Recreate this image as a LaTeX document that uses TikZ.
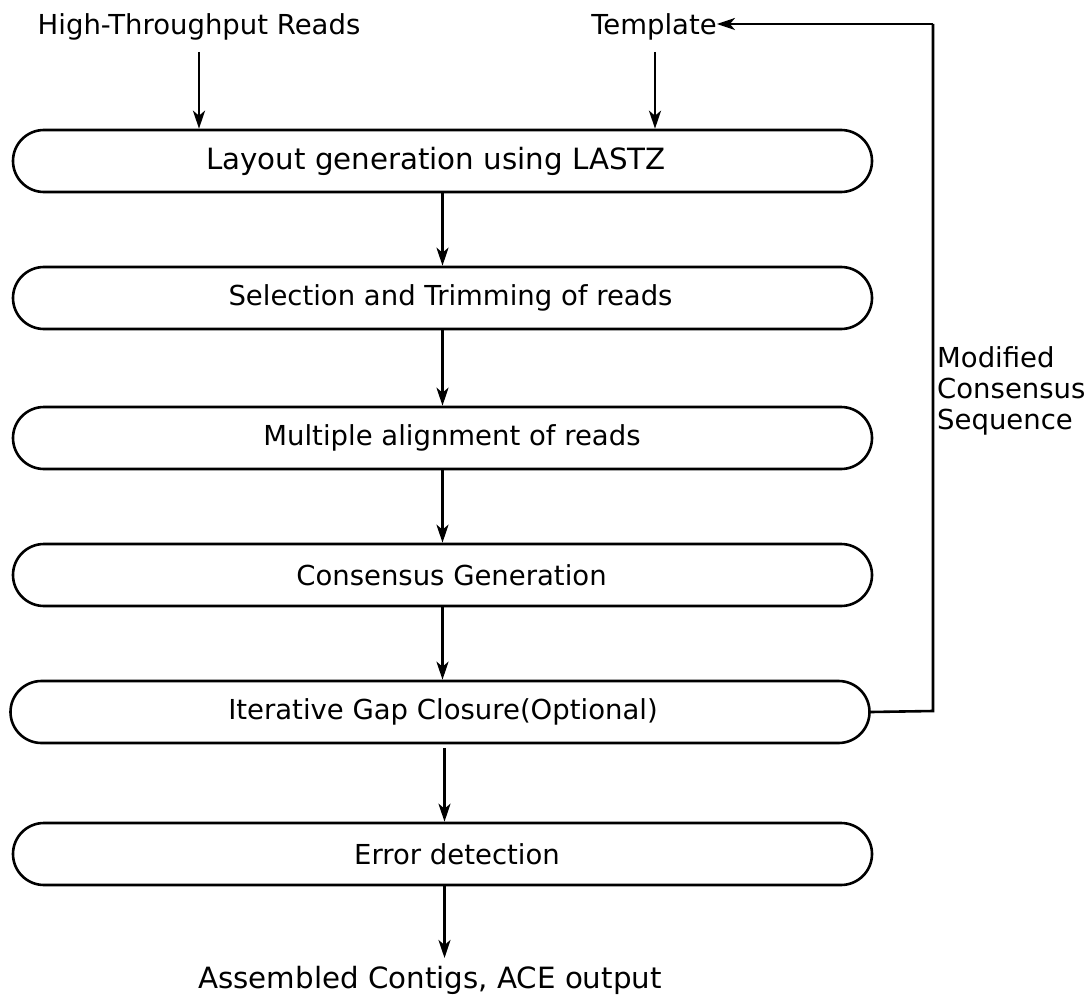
\documentclass[tikz,border=0pt]{standalone}
\usepackage{fontspec}
\setmainfont{DejaVu Sans}
\usetikzlibrary{arrows.meta,calc}
\newcommand{\shiftR}[2]{\hspace*{#1pt}#2}
\newcommand{\shiftL}[2]{#2\hspace*{#1pt}}
\begin{document}
\begin{tikzpicture}[x=1pt,y=-1pt,
  stagebox/.style={draw,line width=2.6pt,rounded corners=31pt,minimum width=859pt,minimum height=62pt,inner sep=0pt,font=\fontsize{27.5}{33}\selectfont},
  lab/.style={inner sep=0pt,font=\fontsize{27.5}{33}\selectfont},
  big/.style={font=\fontsize{29.3}{35}\selectfont},
  arr/.style={line width=2.6pt,-{Stealth[length=18pt,width=12pt,inset=5pt]}}]
\useasboundingbox (0,0) rectangle (1089,995);
\node[lab] (hi) at (199,27) {High-Throughput Reads};
\node[lab] (tpl) at (654,27) {Template};
\node[stagebox,big] (b1) at (442.5,161) {\shiftL{13}{Layout generation using LASTZ}};
\node[stagebox] (b2) at (442.5,298) {\shiftR{16}{Selection and Trimming of reads}};
\node[stagebox] (b3) at (442.5,438) {\shiftR{19}{Multiple alignment of reads}};
\node[stagebox] (b4) at (442.5,575) {\shiftR{18}{Consensus Generation}};
\node[stagebox] (b5) at (440,712) {\shiftR{6}{Iterative Gap Closure(Optional)}};
\node[stagebox] (b6) at (442.5,854) {\shiftR{29}{Error detection}};
\node[lab,big] (out) at (430,980) {Assembled Contigs, ACE output};
\node[lab,align=left,anchor=west,font=\fontsize{27.5}{31}\selectfont] (lbl) at (937,391) {Modified\\Consensus\\Sequence};
\coordinate (t1) at (199,52);
\coordinate (t2) at (655,52);
\draw[arr] (t1) -- (t1 |- b1.north);
\draw[arr] (t2) -- (t2 |- b1.north);
\draw[arr] (b1.south) -- (b2.north);
\draw[arr] (b2.south) -- (b3.north);
\draw[arr] (b3.south) -- (b4.north);
\draw[arr] (b4.south) -- (b4.south |- b5.north);
\coordinate (a5) at (444.5,748);
\draw[arr] (a5) -- (a5 |- b6.north);
\coordinate (a6) at (444.5,958);
\draw[arr] (a6 |- b6.south) -- (a6);
\coordinate (c1) at (933,711);
\coordinate (c2) at (933,24);
\draw[line width=2.6pt] (b5.east) -- (c1) -- (c2);
\draw[arr] (c2) -- (tpl.east |- c2);
\end{tikzpicture}
\end{document}
